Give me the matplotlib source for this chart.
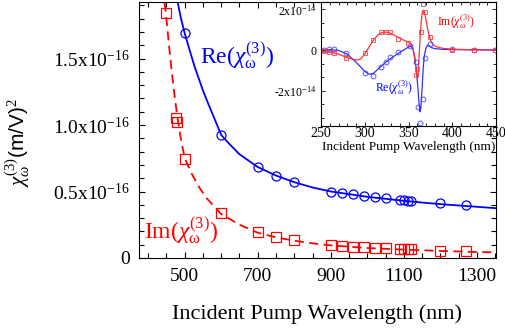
import matplotlib
matplotlib.use("Agg")
import matplotlib.pyplot as plt
from matplotlib.ticker import MultipleLocator, AutoMinorLocator

plt.rcParams['font.family'] = ['Liberation Serif', 'DejaVu Serif']
plt.rcParams['mathtext.fontset'] = 'custom'
plt.rcParams['mathtext.rm'] = 'Liberation Serif'
plt.rcParams['mathtext.it'] = 'Liberation Serif:italic'
plt.rcParams['mathtext.bf'] = 'Liberation Serif:bold'
plt.rcParams['mathtext.sf'] = 'Liberation Sans'

# main panel, values in units of 1e-16 (m/V)^2
re_x = [500, 600, 700, 750, 800, 900, 930, 960, 990, 1020, 1050, 1090, 1100, 1110, 1120, 1200, 1270]
re_y = [1.69, 0.925, 0.684, 0.617, 0.57, 0.50, 0.49, 0.48, 0.466, 0.459, 0.45, 0.436, 0.433, 0.43, 0.43, 0.41, 0.40]
im_x = [450, 476, 479, 500, 600, 700, 750, 800, 900, 930, 960, 990, 1020, 1050, 1090, 1100, 1110, 1120, 1200, 1270]
im_y = [1.84, 1.05, 1.02, 0.744, 0.34, 0.196, 0.156, 0.135, 0.098, 0.09, 0.083, 0.08, 0.075, 0.075, 0.07,
        0.068, 0.068, 0.068, 0.053, 0.053]

re_fit_x = [481, 490, 500, 515, 527, 550, 560, 600, 625, 650, 700, 750, 800, 850, 900, 950, 1000, 1050,
            1100, 1150, 1200, 1250, 1300, 1350]
re_fit_y = [1.92, 1.80, 1.69, 1.55, 1.44, 1.26, 1.19, 0.925, 0.85, 0.78, 0.684, 0.62, 0.57, 0.53, 0.50, 0.48,
            0.46, 0.445, 0.43, 0.417, 0.405, 0.395, 0.385, 0.375]
im_fit_x = [445, 450, 460, 470, 480, 490, 500, 520, 540, 560, 580, 600, 650, 700, 750, 800, 850, 900, 1000,
            1100, 1200, 1300, 1350]
im_fit_y = [1.92, 1.80, 1.52, 1.27, 1.06, 0.89, 0.75, 0.63, 0.53, 0.45, 0.39, 0.33, 0.25, 0.19, 0.155, 0.13,
            0.11, 0.095, 0.075, 0.063, 0.053, 0.045, 0.042]

main_yticks = [0, 0.5, 1.0, 1.5]
main_ylabels = ['0', '0.5x10$^{-16}$', '1.0x10$^{-16}$', '1.5x10$^{-16}$']

# inset, values in units of 1e-14 (m/V)^2
in_im_x = [253, 259, 265, 279, 300, 309, 319, 324, 329, 338, 349, 358.5, 360, 364, 367, 369, 374, 400, 425, 449]
in_im_y = [-0.05, -0.08, -0.13, -0.38, -0.13, 0.5, 0.87, 0.89, 0.87, 0.53, 0.33, -1.23, -0.96, 0.87, 2.27,
           1.89, 0.62, 0.02, 0.0, 0.0]
in_re_x = [253, 259, 265, 279, 300, 309, 319, 324, 329, 338, 352, 358.5, 361, 363, 367, 369, 374, 400, 425, 449]
in_re_y = [0.0, 0.03, 0.03, -0.16, -1.15, -1.28, -0.82, -0.58, -0.36, -0.1, 0.2, -0.58, -2.8, -3.59, -2.42,
           -0.38, 0.3, 0.05, 0.0, 0.0]

in_im_fit_x = [250, 260, 270, 280, 290, 295, 300, 305, 310, 315, 320, 325, 330, 335, 340, 345, 350, 353, 355,
               357, 359, 360, 361, 362, 363, 364, 365, 366, 367, 368, 370, 372, 374, 376, 378, 380, 385, 390,
               400, 425, 450]
in_im_fit_y = [-0.05, -0.1, -0.2, -0.38, -0.5, -0.45, -0.2, 0.15, 0.5, 0.75, 0.87, 0.88, 0.82, 0.7, 0.58, 0.48,
               0.38, 0.3, 0.1, -0.4, -1.1, -1.35, -1.1, -0.4, 0.4, 1.1, 1.6, 1.9, 1.97, 1.9, 1.5, 1.0, 0.65,
               0.42, 0.28, 0.2, 0.12, 0.08, 0.04, 0.01, 0.0]
in_re_fit_x = [250, 260, 270, 280, 290, 300, 305, 310, 315, 320, 330, 340, 350, 353, 355, 357, 359, 361, 362,
               363, 364, 365, 366, 367, 368, 370, 372, 374, 376, 380, 390, 400, 450]
in_re_fit_y = [0.02, 0.02, -0.02, -0.2, -0.6, -1.05, -1.2, -1.15, -0.95, -0.75, -0.4, -0.12, 0.15, 0.18, 0.05,
               -0.3, -1.0, -2.0, -2.6, -3.05, -2.9, -2.3, -1.5, -0.8, -0.3, 0.1, 0.25, 0.2, 0.12, 0.07, 0.03,
               0.02, 0.0]

in_yticks = [-2, 0, 2]
in_ylabels = ['-2x10$^{-14}$', '0', '2x10$^{-14}$']

blue = '#0000ff'
red = '#ff0000'

fig = plt.figure(figsize=(5.05, 3.29), dpi=100)
ax = fig.add_axes([139/505, 71/329, 357/505, 256/329])

ax.plot(re_fit_x, re_fit_y, '-', color=blue, lw=1.3)
ax.plot(im_fit_x, im_fit_y, '--', color=red, lw=1.3, dashes=(5, 3))
ax.plot(re_x, re_y, 'o', mfc='none', mec=blue, ms=6.5, mew=0.9)
ax.plot(im_x, im_y, 's', mfc='none', mec=red, ms=6.5, mew=0.9)

ax.set_xlim(375, 1352)
ax.set_ylim(0, 1.925)
ax.set_xticks([500, 700, 900, 1100, 1300])
ax.xaxis.set_minor_locator(MultipleLocator(50))
ax.set_yticks(main_yticks)
ax.set_yticklabels(main_ylabels)
ax.yaxis.set_minor_locator(MultipleLocator(0.1))
ax.tick_params(which='both', direction='in', top=True, right=True, labelsize=14, width=0.8)
ax.tick_params(which='major', length=4)
ax.tick_params(which='minor', length=3.5)
ax.tick_params(axis='y', pad=6.5)
ax.tick_params(axis='x', pad=7)
ax.set_xlabel('Incident Pump Wavelength (nm)', fontsize=16)
ax.xaxis.set_label_coords(0.5, -0.18)

ax.text(542, 1.466, r'Re$(\chi_{\mathrm{\omega}}^{(3)})$', color=blue, fontsize=17, va='baseline')
ax.text(389, 0.143, r'Im$(\chi_{\mathrm{\omega}}^{(3)})$', color=red, fontsize=17, va='baseline')

fig.text(18/505, 1 - 143/329, r'$\chi_{\omega}^{(3)}\mathsf{(m/V)}^{2}$', rotation=90,
         ha='center', va='center', fontsize=15)

# inset
ax2 = fig.add_axes([321/505, 203/329, 175/505, 124/329])
ax2.plot(in_re_fit_x, in_re_fit_y, '-', color='#3030ff', lw=0.9)
ax2.plot(in_im_fit_x, in_im_fit_y, '-', color='#ff3030', lw=0.9)
ax2.plot(in_re_x, in_re_y, 'o', mfc='none', mec='#4040ff', ms=3.5, mew=0.6)
ax2.plot(in_im_x, in_im_y, 's', mfc='none', mec='#ff4040', ms=3.5, mew=0.6)
ax2.set_xlim(250, 450)
ax2.set_ylim(-3.75, 2.37)
ax2.set_xticks([250, 300, 350, 400, 450])
ax2.xaxis.set_minor_locator(MultipleLocator(10))
ax2.set_yticks(in_yticks)
ax2.set_yticklabels(in_ylabels)
ax2.yaxis.set_minor_locator(AutoMinorLocator(3))
ax2.tick_params(which='both', direction='in', top=True, right=True, width=0.6)
ax2.tick_params(which='major', length=3)
ax2.tick_params(which='minor', length=2)
ax2.tick_params(axis='x', labelsize=10, pad=1)
ax2.tick_params(axis='y', labelsize=8.5, pad=3)
ax2.set_xlabel('Incident Pump Wavelength (nm)', fontsize=9.5, labelpad=0.5)
ax2.text(383, 1.38, r'Im$(\chi_{\mathrm{\omega}}^{(3)})$', color=red, fontsize=8.5, va='center')
ax2.text(312, -1.88, r'Re$(\chi_{\mathrm{\omega}}^{(3)})$', color=blue, fontsize=8.5, va='center')

fig.savefig('out.png', dpi=100)
